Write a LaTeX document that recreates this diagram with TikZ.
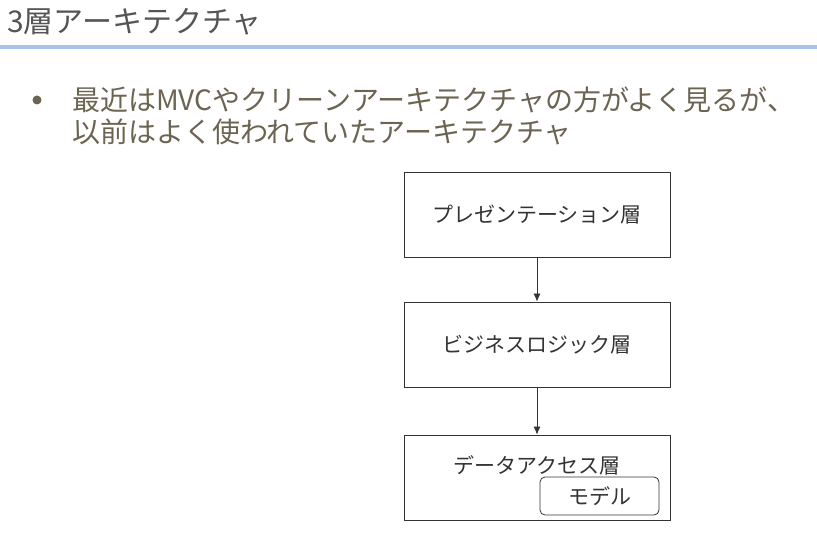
\documentclass[tikz,border=0pt]{standalone}
\usepackage{fontspec}
\setmainfont{Noto Sans CJK JP}
\usetikzlibrary{arrows.meta}

\definecolor{titlegray}{HTML}{555555}
\definecolor{rulebl}{HTML}{A9C4E8}
\definecolor{bodytext}{HTML}{6B6452}
\definecolor{boxline}{HTML}{333333}

\begin{document}
\begin{tikzpicture}[
        layernode/.style={rectangle, draw=boxline, text=boxline, thick, minimum width=266pt, minimum height=85pt, align=flush center, font=\fontsize{21}{24}\selectfont},
        modelnode/.style={rectangle, rounded corners=5pt, draw=boxline, text=boxline, thick, minimum width=119pt, minimum height=38pt, font=\fontsize{21}{24}\selectfont},
        textnode/.style={anchor=west, inner sep=0pt, text=bodytext, font=\fontsize{28}{32}\selectfont},
        arrow/.style = {-{Latex[length=8pt,width=7pt]}, thick, draw=boxline},
        x=1pt,y=-1pt,
    ]
    \useasboundingbox (0,0) rectangle (817,537);
    \node[anchor=west, inner sep=0pt, text=titlegray, font=\fontsize{30}{34}\selectfont] (title) at (7,22) {3層アーキテクチャ};
    \draw[rulebl, line width=3.5pt] (0,47) -- (817,47);
    \node[circle, fill=bodytext, inner sep=0pt, minimum size=9pt] (dot) at (37,100) {};
    \node[textnode] (line1) at (72,100) {最近はMVCやクリーンアーキテクチャの方がよく見るが、};
    \node[textnode] (line2) at (72,132) {以前はよく使われていたアーキテクチャ};
    \node[layernode] (0) at (537,214.5) {プレゼンテーション層};
    \node[layernode] (1) at (537,344.5) {ビジネスロジック層};
    \node[layernode] (2) at (537,477.5) {};
    \node[text=boxline, font=\fontsize{21}{24}\selectfont] (2t) at (537,465) {データアクセス層};
    \node[modelnode] (3) at (599.5,496) {モデル};
    \draw [arrow] (0) -- (1);
    \draw [arrow] (1) -- (2);
\end{tikzpicture}
\end{document}
